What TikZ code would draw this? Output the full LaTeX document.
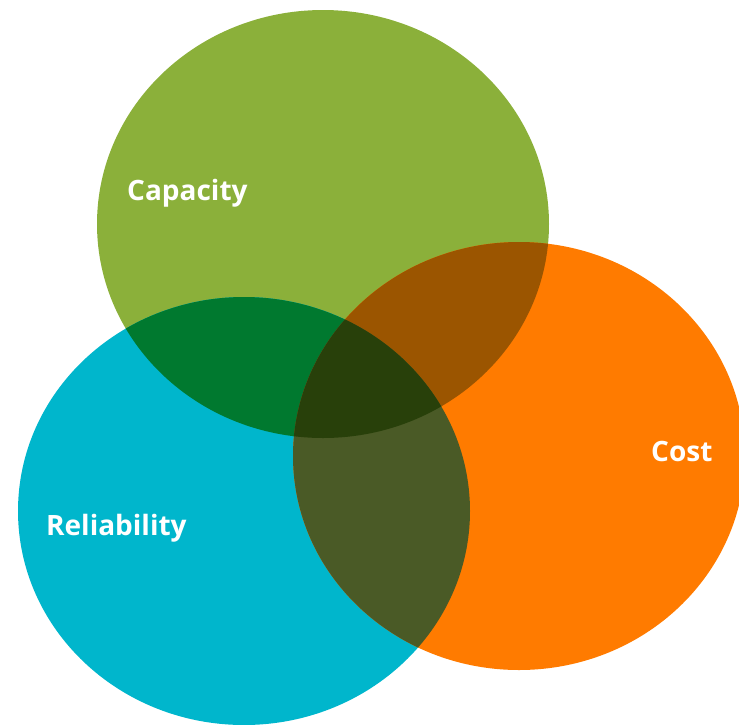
\documentclass[tikz,border=0pt]{standalone}
\usepackage{fontspec}
\setmainfont{Open Sans}
\definecolor{cgreen}{HTML}{8BB03A}
\definecolor{ccyan}{HTML}{00B6CC}
\definecolor{corange}{HTML}{FF7B00}
\definecolor{cgc}{HTML}{00792F}
\definecolor{cgo}{HTML}{9B5500}
\definecolor{cco}{HTML}{4A5A26}
\definecolor{call}{HTML}{28400A}
\tikzset{lbl/.style={text=white,font=\fontsize{28}{32}\selectfont\bfseries,inner sep=0pt,anchor=base west}}
\begin{document}
\begin{tikzpicture}[x=1pt,y=-1pt]
\useasboundingbox (0,0) rectangle (739,724);
\def\G{(323,224) ellipse [x radius=226,y radius=214]}
\def\C{(244,511) ellipse [x radius=226,y radius=214]}
\def\O{(519,456) ellipse [x radius=226,y radius=214]}
\fill[cgreen] \G;
\fill[ccyan] \C;
\fill[corange] \O;
\begin{scope}\clip \G; \fill[cgc] \C; \end{scope}
\begin{scope}\clip \G; \fill[cgo] \O; \end{scope}
\begin{scope}\clip \C; \fill[cco] \O; \end{scope}
\begin{scope}\clip \G; \clip \C; \fill[call] \O; \end{scope}
\node[lbl] (cap) at (127,200) {Capacity};
\node[lbl] (rel) at (46,535) {Reliability};
\node[lbl] (cost) at (651,461) {Cost};
\end{tikzpicture}
\end{document}
